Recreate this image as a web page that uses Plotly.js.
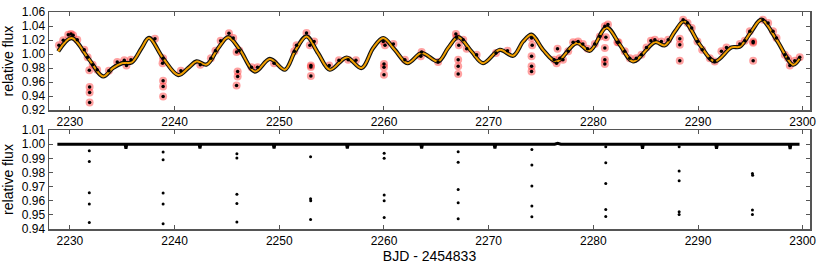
<!DOCTYPE html>
<html>
<head>
<meta charset="utf-8">
<script src="https://cdn.plot.ly/plotly-3.0.1.min.js"></script>
<style>html,body{margin:0;padding:0;background:#fff;}#chart{width:823px;height:268px;}</style>
</head>
<body>
<div id="chart"></div>
<script>
// ---- Top panel: observed (binned) light curve ----
var obsTime = [2228.95,2229.36,2229.84,2230.1,2230.3,2230.7,2231.37,2231.69,2232.17,2231.85,2232.6,2231.88,2231.88,2231.88,
  2233.72,2234.52,2235.19,2235.4,2235.83,2238.12,2238.9,2238.85,2238.9,2238.9,2238.9,2240.6,2242.45,2243.47,2243.9,2244.4,
  2245.19,2245.6,2245.92,2246.17,2246.02,2246.02,2245.92,2247.35,2247.92,2249.5,2251.43,2251.65,2252.6,2252.92,2253.33,
  2253.02,2253.02,2253.02,2254.77,2255.7,2256.58,2257.32,2259.93,2260.1,2260.0,2260.0,2260.0,2260.9,2262.0,2263.52,2263.6,
  2265.17,2266.87,2266.93,2267.15,2267.57,2267.9,2267.09,2267.09,2267.09,2268.85,2270.7,2271.8,2274.1,2274.16,2274.1,2274.1,
  2274.1,2276.26,2276.49,2276.58,2276.8,2277.1,2277.6,2278.07,2278.55,2279.0,2279.45,2280.14,2280.62,2281.1,2281.4,2281.2,
  2281.1,2281.1,2281.1,2282.3,2282.4,2283.0,2283.48,2284.1,2284.6,2285.08,2285.5,2285.88,2286.5,2287.15,2288.26,2288.26,
  2288.26,2288.58,2289.0,2289.4,2289.95,2290.4,2291.13,2291.6,2292.24,2292.72,2294.0,2294.47,2294.95,2295.27,2295.27,2295.27,
  2296.2,2296.7,2297.17,2297.5,2298.29,2298.6,2298.77,2299.24,2299.72];
var obsFlux = [1.0124,1.0195,1.0276,1.0286,1.0267,1.0205,1.006,0.9953,0.9847,0.9767,0.9776,0.953,0.945,0.931,
  0.976,0.9886,0.991,0.9838,0.9918,1.0219,0.994,0.987,0.9618,0.9538,0.9395,0.976,0.9847,0.994,1.0047,1.019,
  1.0296,1.0228,1.0028,1.0052,0.975,0.968,0.955,0.981,0.981,0.987,1.0038,1.0124,1.03,1.0124,1.018,
  0.9835,0.9815,0.9686,0.9838,0.991,0.9918,0.991,1.018,1.0124,0.9857,0.981,0.9704,1.0143,0.9918,0.9967,1.003,
  0.9886,1.0286,1.024,1.0124,1.0205,1.0076,0.9918,0.9824,0.9714,0.999,1.0014,1.0047,1.0228,1.0124,0.9967,0.9824,
  0.975,0.9918,0.987,1.0076,0.994,0.9918,1.0038,1.0167,1.018,1.0143,1.0076,1.0143,1.0252,1.0396,1.042,1.024,
  1.0086,0.9918,0.9857,1.017,1.0167,1.0038,0.994,0.994,0.999,1.0095,1.019,1.0205,1.018,1.0205,1.0219,1.0133,
  0.9904,1.049,1.0443,1.0371,1.018,1.006,0.994,0.9895,1.0038,1.0095,1.0143,1.019,1.0324,1.018,1.016,0.9904,
  1.049,1.0443,1.0324,1.0228,0.999,0.994,0.9838,0.9904,0.9953];

// ---- Top panel: spot model curve (knots) ----
var modelTime = [2228.88,2230.16,2231.75,2233.18,2234.1,2235.0,2235.9,2236.85,2237.55,2238.9,2240.35,2241.3,2242.1,2243.06,
  2244.17,2245.12,2246.24,2247.67,2249.1,2250.53,2251.5,2252.6,2253.7,2254.83,2256.43,2257.86,2258.97,2259.93,2261.04,
  2262.25,2263.6,2265.18,2266.13,2267.09,2268.36,2269.47,2271.07,2272.34,2273.3,2274.1,2275.2,2276.49,2278.4,2279.67,
  2281.26,2282.53,2283.8,2285.9,2286.83,2287.8,2288.67,2290.17,2291.6,2293.2,2294.0,2295.1,2296.06,2297.5,2299.08,2299.72];
var modelFlux = [1.0038,1.0228,0.994,0.968,0.980,0.987,0.988,1.0086,1.023,0.994,0.970,0.980,0.9895,0.985,
  1.0086,1.024,1.006,0.975,0.993,0.9776,1.0038,1.0252,1.0014,0.9776,0.995,0.980,1.0086,1.0228,1.006,
  0.987,1.0014,0.9895,1.0086,1.024,1.0038,0.987,1.006,0.9976,1.018,1.0276,1.006,0.9895,1.0157,1.0047,
  1.038,1.0133,0.9895,1.017,1.0124,1.0324,1.0467,1.0133,0.9895,1.0095,1.0105,1.0324,1.049,1.0205,0.9847,0.994];

// ---- Bottom panel: detrended flux, out-of-transit baseline ----
var baseTime = [2228.8,2235.27,2235.35,2235.43,2242.34,2242.42,2242.5,2249.42,2249.5,2249.58,2256.42,2256.5,2256.58,
  2263.52,2263.6,2263.68,2270.52,2270.6,2270.68,2276.3,2276.6,2276.9,2284.62,2284.7,2284.78,2291.69,2291.77,2291.85,
  2298.72,2298.8,2298.88,2299.7];
var baseFlux = [1.0,1.0,0.9968,1.0,1.0,0.997,1.0,1.0,0.997,1.0,1.0,0.9969,1.0,
  1.0,0.9969,1.0,1.0,0.9969,1.0,1.0,1.0007,1.0,1.0,0.9968,1.0,1.0,0.9968,1.0,
  1.0,0.9966,1.0,1.0];

// ---- Bottom panel: in-transit points ----
var trTime = [2231.85,2231.85,2231.85,2231.85,2231.85,2238.9,2238.9,2238.9,2238.9,2238.9,
  2245.95,2245.95,2245.95,2245.95,2245.95,2252.99,2252.99,2253.0,2252.99,
  2260.02,2260.02,2260.02,2260.02,2260.02,2267.09,2267.09,2267.09,2267.09,2267.09,
  2274.13,2274.13,2274.13,2274.13,2274.13,2281.19,2281.19,2281.19,2281.19,2281.19,
  2288.2,2288.2,2288.2,2288.2,2288.2,2295.2,2295.22,2295.2,2295.2];
var trFlux = [0.9953,0.9878,0.9656,0.9576,0.9446,0.9944,0.989,0.9654,0.9576,0.9437,
  0.9932,0.9902,0.9645,0.958,0.9449,0.9911,0.9614,0.960,0.9468,
  0.9935,0.990,0.964,0.960,0.9482,0.9947,0.9873,0.968,0.9585,0.9472,
  0.9963,0.9852,0.9704,0.9562,0.9486,0.9982,0.9868,0.9722,0.9538,0.9489,
  0.9982,0.981,0.9741,0.9522,0.9503,0.9793,0.9781,0.9534,0.9503];

var xTicks = [2230,2240,2250,2260,2270,2280,2290,2300];
var yTicksTop = [0.92,0.94,0.96,0.98,1.00,1.02,1.04,1.06];
var yTicksBot = [0.94,0.95,0.96,0.97,0.98,0.99,1.00,1.01];

var fam = '"Liberation Sans", Arial, Helvetica, sans-serif';
var font = {family:fam, size:12, color:'#000'};
var titleFont = {family:fam, size:14, color:'#000'};

var traces = [
  {x:obsTime, y:obsFlux, xaxis:'x', yaxis:'y', mode:'markers', marker:{color:'rgba(255,30,30,0.42)', size:8}, hoverinfo:'skip'},
  {x:modelTime, y:modelFlux, xaxis:'x', yaxis:'y', mode:'lines', line:{color:'#111', width:4.2, shape:'spline', smoothing:1}, hoverinfo:'skip'},
  {x:modelTime, y:modelFlux, xaxis:'x', yaxis:'y', mode:'lines', line:{color:'#f2a000', width:2, shape:'spline', smoothing:1}},
  {x:obsTime, y:obsFlux, xaxis:'x', yaxis:'y', mode:'markers', marker:{color:'#000', size:3.5}},
  {x:baseTime, y:baseFlux, xaxis:'x2', yaxis:'y2', mode:'lines', line:{color:'#000', width:3}},
  {x:trTime, y:trFlux, xaxis:'x2', yaxis:'y2', mode:'markers', marker:{color:'#000', size:3}}
];

var axCommon = {
  showgrid:false, zeroline:false, showline:true, linecolor:'#555', linewidth:1.5, mirror:'ticks',
  ticks:'inside', ticklen:4, tickcolor:'#555', tickwidth:1, tickfont:font
};

var layout = {
  width:823, height:268, showlegend:false,
  paper_bgcolor:'#fff', plot_bgcolor:'#fff',
  margin:{l:49, r:13, t:12, b:39},
  font:font,
  xaxis: Object.assign({}, axCommon, {domain:[0,1], range:[2228.0,2300.7], tickvals:xTicks, ticktext:xTicks.map(String), anchor:'y'}),
  yaxis: Object.assign({}, axCommon, {domain:[0.548,1], range:[0.92,1.06], tickvals:yTicksTop, ticktext:yTicksTop.map(function(v){return v.toFixed(2);}),
    title:{text:'relative flux', font:titleFont, standoff:5}}),
  xaxis2: Object.assign({}, axCommon, {domain:[0,1], range:[2228.0,2300.7], tickvals:xTicks, ticktext:xTicks.map(String), anchor:'y2',
    title:{text:'BJD - 2454833', font:titleFont, standoff:4}}),
  yaxis2: Object.assign({}, axCommon, {domain:[0,0.456], range:[0.94,1.01], tickvals:yTicksBot, ticktext:yTicksBot.map(function(v){return v.toFixed(2);}),
    title:{text:'relative flux', font:titleFont, standoff:5}})
};

Plotly.newPlot('chart', traces, layout, {staticPlot:true, displayModeBar:false});
</script>
</body>
</html>
